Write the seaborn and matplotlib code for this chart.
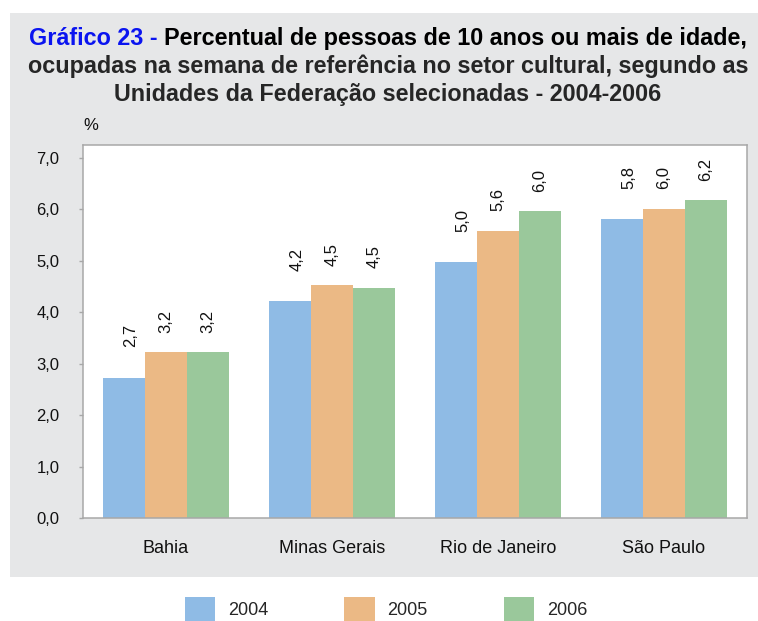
import matplotlib
matplotlib.use("Agg")
import matplotlib.pyplot as plt
from matplotlib.patches import Patch, Rectangle
import pandas as pd
import seaborn as sns

# data
estados = ["Bahia", "Minas Gerais", "Rio de Janeiro", "São Paulo"]
anos = ["2004", "2005", "2006"]
v2004 = [2.73, 4.21, 4.97, 5.81]
v2005 = [3.22, 4.52, 5.58, 6.01]
v2006 = [3.22, 4.48, 5.96, 6.18]
cores = ["#8fbbe5", "#ebb985", "#9ac89b"]

df = pd.DataFrame({
    "uf": estados * 3,
    "ano": [a for a in anos for _ in estados],
    "valor": v2004 + v2005 + v2006,
})

sns.set_style("white")
plt.rcParams["font.family"] = ["Liberation Sans", "DejaVu Sans"]

W, H = 758, 621
fig = plt.figure(figsize=(W / 100, H / 100), dpi=100, facecolor="white")
fig.patches.append(Rectangle((10 / W, 1 - 577 / H), 1 - 10 / W, (577 - 13) / H,
                             transform=fig.transFigure, facecolor="#e6e7e8",
                             edgecolor="none", zorder=-1))

ax = fig.add_axes([83 / W, 1 - 518 / H, (747 - 83) / W, (518 - 145) / H])
sns.barplot(data=df, x="uf", y="valor", hue="ano", palette=cores, width=0.76,
            saturation=1, linewidth=0, legend=False, ax=ax)
ax.set_facecolor("white")
ax.set_ylim(0, 7.25)
ax.set_yticks(range(8))
ax.set_yticklabels([f"{v},0" for v in range(8)])
ax.set_xlabel("")
ax.set_ylabel("")
for s in ax.spines.values():
    s.set_color("#a8a8a8")
    s.set_linewidth(1.1)
ax.tick_params(axis="x", length=0, pad=16, labelsize=13, colors="#111111")
ax.tick_params(axis="y", length=3, width=1, color="#a8a8a8", pad=14,
               labelsize=12, labelcolor="#111111", direction="out", left=True)

# value labels, the 2004 ones sit a bit higher and to the right as in the source
offsets = [(5, 22), (0, 14), (0, 14)]
for cont, (dx, dy) in zip(ax.containers, offsets):
    for bar in cont:
        h = bar.get_height()
        ax.annotate(f"{h:.1f}".replace(".", ","),
                    (bar.get_x() + bar.get_width() / 2, h),
                    xytext=(dx, dy), textcoords="offset points",
                    rotation=90, ha="center", va="bottom", fontsize=12,
                    color="#111111")

fig.text(83 / W, 1 - 125 / H, "%", ha="left", va="center", fontsize=12,
         color="#111111")

# title, first part in blue
fs = 16.8
cx = 388 / W
fig.canvas.draw()
r = fig.canvas.get_renderer()
t_a = fig.text(0, 1 - 45 / H, "Gráfico 23 - ", color="#0a14f0", fontsize=fs,
               fontweight="bold", va="baseline")
t_b = fig.text(0, 1 - 45 / H, "Percentual de pessoas de 10 anos ou mais de idade,",
               color="black", fontsize=fs, fontweight="bold", va="baseline")
wa = t_a.get_window_extent(r).width / W
wb = t_b.get_window_extent(r).width / W
x0 = cx - (wa + wb) / 2
t_a.set_x(x0)
t_b.set_x(x0 + wa)
fig.text(cx, 1 - 73 / H, "ocupadas na semana de referência no setor cultural, segundo as",
         ha="center", va="baseline", fontsize=fs, fontweight="bold")
fig.text(cx, 1 - 101 / H, "Unidades da Federação selecionadas - 2004-2006",
         ha="center", va="baseline", fontsize=fs, fontweight="bold")

handles = [Patch(facecolor=c, edgecolor="none") for c in cores]
fig.legend(handles, anos, loc="center", bbox_to_anchor=(386 / W, 1 - 609 / H),
           ncol=3, frameon=False, fontsize=13, handlelength=1.7,
           handleheight=1.6, handletextpad=0.7, columnspacing=4.2)

fig.savefig("out.png", dpi=100)
